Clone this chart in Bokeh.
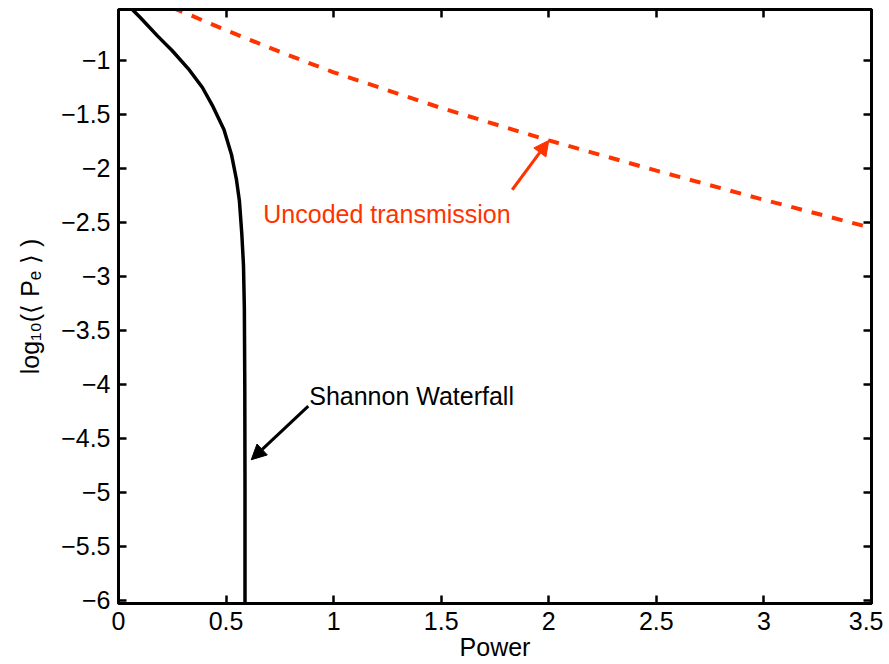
from bokeh.plotting import figure
from bokeh.models import (Range1d, LinearAxis, FixedTicker, CustomJSTickFormatter,
                          Arrow, NormalHead)
from bokeh.embed import file_html
from bokeh.resources import INLINE
from bokeh.core.properties import value

# ---- data ----
shannon_power = [0.05, 0.10, 0.18, 0.25, 0.33, 0.39, 0.44, 0.49, 0.525, 0.548,
                 0.562, 0.573, 0.581, 0.585, 0.587, 0.588, 0.588]
shannon_log_pe = [-0.50, -0.60, -0.77, -0.91, -1.09, -1.25, -1.43, -1.64, -1.87, -2.10,
                  -2.30, -2.60, -2.90, -3.30, -4.00, -5.00, -6.03]

uncoded_power = [0.25, 0.5, 0.75, 1.0, 1.5, 2.0, 2.5, 3.0, 3.5]
uncoded_log_pe = [-0.51, -0.72, -0.92, -1.11, -1.44, -1.74, -2.02, -2.29, -2.55]

x_ticks = [0, 0.5, 1, 1.5, 2, 2.5, 3, 3.5]
y_ticks = [-6, -5.5, -5, -4.5, -4, -3.5, -3, -2.5, -2, -1.5, -1]

shannon_label = "Shannon Waterfall"
shannon_label_pos = (0.8865, -4.111)
shannon_arrow = (0.882, -4.20, 0.617, -4.697)
uncoded_label = "Uncoded transmission"
uncoded_label_pos = (0.673, -2.417)
uncoded_arrow = (1.830, -2.197, 2.0, -1.74)

RED = "#ff3300"
FONT = "Liberation Sans"
FS = "25px"

p = figure(width=883, height=664, output_backend="svg", toolbar_location=None,
           x_range=Range1d(0, 3.5), y_range=Range1d(-6.028, -0.528),
           min_border_left=118, min_border_right=12, min_border_top=9,
           min_border_bottom=61, background_fill_color="white",
           border_fill_color="white")
p.xgrid.visible = False
p.ygrid.visible = False
p.outline_line_color = "black"
p.outline_line_width = 3

fmt = CustomJSTickFormatter(code="""
var v = Math.round(tick*10)/10;
var s = String(Math.abs(v));
return v < 0 ? "\\u2212" + s : s;
""")
blank = CustomJSTickFormatter(code="return '';")

def style(ax, ticks, labels=True):
    ax.ticker = FixedTicker(ticks=ticks)
    ax.axis_line_width = 3
    ax.axis_line_color = "black"
    ax.major_tick_in = 8
    ax.major_tick_out = 0
    ax.major_tick_line_width = 2.5
    ax.minor_tick_in = 0
    ax.minor_tick_out = 0
    ax.major_label_text_font = FONT
    ax.major_label_text_font_size = FS
    ax.major_label_text_color = "black"
    ax.axis_label_text_font = FONT
    ax.axis_label_text_font_size = FS
    ax.axis_label_text_font_style = "normal"
    ax.axis_label_text_color = "black"
    if labels:
        ax.formatter = fmt
    else:
        ax.formatter = blank
        ax.major_label_standoff = 0
        ax.major_label_text_font_size = "1px"

xa = p.xaxis[0]
ya = p.yaxis[0]
style(xa, x_ticks)
style(ya, y_ticks)
xa.axis_label = "Power"
xa.major_label_standoff = 8
xa.axis_label_standoff = 0
ya.axis_label = "log\u2081\u2080(\u27e8 P\u2091 \u27e9 )"
ya.major_label_standoff = 8
ya.axis_label_standoff = 14

top = LinearAxis()
right = LinearAxis()
style(top, x_ticks, labels=False)
style(right, y_ticks, labels=False)
p.add_layout(top, "above")
p.add_layout(right, "right")

p.line(shannon_power, shannon_log_pe, line_color="black", line_width=3.5)
p.line(uncoded_power, uncoded_log_pe, line_color=RED, line_width=4, line_dash="11 10")

p.text(x=[shannon_label_pos[0]], y=[shannon_label_pos[1]], text=[shannon_label],
       text_font=value(FONT), text_font_size=FS, text_color="black",
       text_baseline="alphabetic", text_align="left")
p.text(x=[uncoded_label_pos[0]], y=[uncoded_label_pos[1]], text=[uncoded_label],
       text_font=value(FONT), text_font_size=FS, text_color=RED,
       text_baseline="alphabetic", text_align="left")

p.add_layout(Arrow(end=NormalHead(size=15, fill_color="black", line_color="black"),
                   x_start=shannon_arrow[0], y_start=shannon_arrow[1],
                   x_end=shannon_arrow[2], y_end=shannon_arrow[3],
                   line_color="black", line_width=3))
p.add_layout(Arrow(end=NormalHead(size=15, fill_color=RED, line_color=RED),
                   x_start=uncoded_arrow[0], y_start=uncoded_arrow[1],
                   x_end=uncoded_arrow[2], y_end=uncoded_arrow[3],
                   line_color=RED, line_width=3))

open("out.html", "w").write(file_html(p, INLINE))
